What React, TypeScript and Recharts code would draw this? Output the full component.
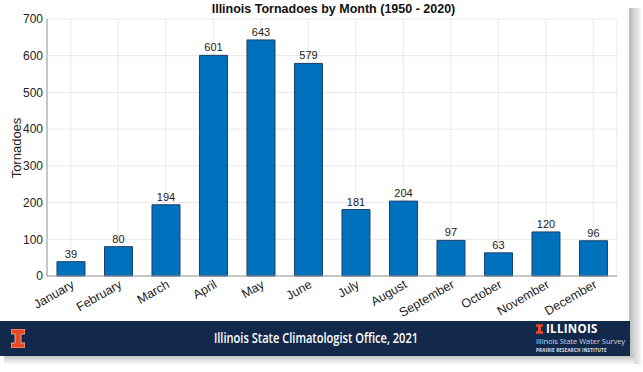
import React from "react";
import { BarChart, Bar, XAxis, YAxis, CartesianGrid, LabelList } from "recharts";

const months = ["January", "February", "March", "April", "May", "June", "July", "August", "September", "October", "November", "December"];
const tornadoes = [39, 80, 194, 601, 643, 579, 181, 204, 97, 63, 120, 96];
const yTicks = [0, 100, 200, 300, 400, 500, 600, 700];

const data = months.map((m, i) => ({ month: m, value: tornadoes[i] }));

const FONT = "'Liberation Sans', Arial, Helvetica, sans-serif";

const XTick = (props: any) => {
  const { x, payload } = props;
  return (
    <g transform={`translate(${x},${279})`}>
      <text x={0} y={0} dy={9} textAnchor="end" transform="rotate(-30)" fontSize={12.5} fill="#222" fontFamily={FONT}>
        {payload.value}
      </text>
    </g>
  );
};

export default function App() {
  return (
    <div style={{ position: "absolute", left: 0, top: 0, width: 643, height: 372, background: "#fff", overflow: "hidden" }}>
      {/* right shadow */}
      <div style={{ position: "absolute", left: 629, top: 8, width: 12, height: 356, background: "linear-gradient(to right, #b8b8b8, #d8d8d8 50%, #f4f4f4)" }} />
      {/* bottom shadow */}
      <div style={{ position: "absolute", left: 4, top: 355, width: 630, height: 10, background: "linear-gradient(to bottom, #bdbdbd, #e6e6e6 60%, #fff)" }} />
      <div style={{ position: "absolute", left: 0, top: 0, width: 629, height: 321, background: "#fff" }} />
      <div style={{ position: "absolute", left: 0, top: 0 }}>
        <BarChart width={643} height={321} data={data} margin={{ top: 19, right: 26, left: 7, bottom: 0 }} barCategoryGap="21%">
          <CartesianGrid stroke="#e8e8e8" strokeWidth={1} />
          <XAxis
            dataKey="month"
            height={45}
            tick={<XTick />}
            tickLine={false}
            axisLine={{ stroke: "#9a9a9a" }}
            interval={0}
          />
          <YAxis
            domain={[0, 700]}
            ticks={yTicks}
            width={40}
            tickLine={false}
            tickSize={2}
            axisLine={{ stroke: "#9a9a9a" }}
            tick={{ fontSize: 12, fill: "#222", fontFamily: FONT }}
            tickMargin={2}
          />
          <Bar dataKey="value" fill="#0072BD" stroke="#1c3f66" strokeWidth={1} isAnimationActive={false}>
            <LabelList dataKey="value" position="top" offset={4} style={{ fontSize: 11, fill: "#222", fontFamily: FONT }} />
          </Bar>
        </BarChart>
      </div>
      <div style={{ position: "absolute", left: 17, top: 148, width: 0, height: 0 }}>
        <div style={{ position: "absolute", left: -40, top: -8, width: 80, height: 16, lineHeight: "16px", textAlign: "center", transform: "rotate(-90deg)", fontFamily: FONT, fontSize: 13, color: "#222" }}>
          Tornadoes
        </div>
      </div>
      <div style={{ position: "absolute", left: 0, top: 0, width: 629, textAlign: "center", fontFamily: FONT, fontWeight: 700, fontSize: 12.5, color: "#111", lineHeight: "19px", paddingLeft: 38, boxSizing: "border-box" }}>
        Illinois Tornadoes by Month (1950 - 2020)
      </div>
      {/* footer */}
      <div style={{ position: "absolute", left: 0, top: 321, width: 630, height: 35, background: "#13294B" }}>
        <div style={{ position: "absolute", left: 11, top: 8, width: 14, height: 19 }}>
          <svg width={14} height={19} viewBox="0 0 14 19">
            <path d="M0 0 H14 V5 H10 V14 H14 V19 H0 V14 H4 V5 H0 Z" fill="#E84A27" stroke="#f6c3b5" strokeWidth={0.8} />
          </svg>
        </div>
        <div style={{ position: "absolute", left: 316, top: 0, width: 0, height: 35 }}>
          <div style={{ position: "absolute", left: -200, width: 400, textAlign: "center", lineHeight: "35px", color: "#fff", fontFamily: "'Open Sans', sans-serif", fontWeight: 600, fontSize: 13.5, transform: "scaleX(0.82)", whiteSpace: "nowrap" }}>
            Illinois State Climatologist Office, 2021
          </div>
        </div>
        <div style={{ position: "absolute", left: 536, top: 1, fontFamily: "'Open Sans', sans-serif", color: "#fff", whiteSpace: "nowrap" }}>
          <div style={{ display: "flex", alignItems: "center", fontSize: 11.5, fontWeight: 700, lineHeight: "13px", letterSpacing: 0.3 }}>
            <svg width={7} height={10} viewBox="0 0 14 19" style={{ marginRight: 3 }}>
              <path d="M0 0 H14 V5 H10 V14 H14 V19 H0 V14 H4 V5 H0 Z" fill="#E84A27" />
            </svg>
            ILLINOIS
          </div>
          <div style={{ fontSize: 7.6, lineHeight: "12px", color: "#c9d3e3", letterSpacing: -0.1 }}>Illinois State Water Survey</div>
          <div style={{ fontSize: 4.5, lineHeight: "7px", fontWeight: 700, letterSpacing: 0.2, color: "#e0e6ef" }}>PRAIRIE RESEARCH INSTITUTE</div>
        </div>
      </div>
    </div>
  );
}
